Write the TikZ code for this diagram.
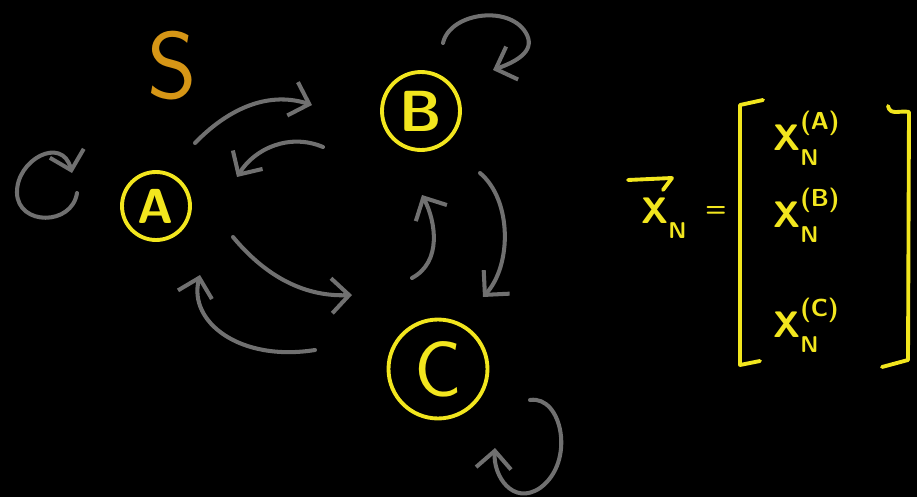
\documentclass[tikz,border=0pt]{standalone}
\usetikzlibrary{arrows.meta}

\definecolor{tiza}{RGB}{242,230,30}
\definecolor{gris}{RGB}{112,112,112}
\definecolor{naranja}{RGB}{214,150,22}

% X con subindice N y superindice opcional
\newcommand{\xsubn}[1]{X\makebox[0pt][l]{\raisebox{-0.9ex}{\fontsize{13}{15}\selectfont N}}%
  \raisebox{1.2ex}{\fontsize{14}{16}\selectfont #1}}

\begin{document}
\begin{tikzpicture}[x=0.02cm, y=-0.02cm, >={Straight Barb[length=3.5mm,width=7mm]},
    line cap=round, line join=round,
    flecha/.style={->, gris, line width=2.3pt},
    estado/.style={circle, draw=tiza, line width=2.2pt, text=tiza, inner sep=0pt},
    entrada/.style={tiza, anchor=base west, inner sep=0pt, font=\fontsize{21}{25}\sffamily\bfseries}]
  % Fondo negro (pizarra)
  \fill[black] (0,0) rectangle (917,497);
  \useasboundingbox (0,0) rectangle (917,497);

  % Estados
  \node[naranja, font=\fontsize{54}{60}\sffamily] (S) at (172,66) {S};
  \node[estado, minimum size=1.36cm, font=\fontsize{28}{32}\sffamily\bfseries] (A) at (156,206) {A};
  \node[estado, minimum size=1.56cm, font=\fontsize{33}{38}\sffamily\bfseries] (B) at (421,111) {B};
  \node[estado, minimum size=1.98cm, font=\fontsize{45}{50}\sffamily] (C) at (438,369) {C};

  % Extremos de las flechas
  \coordinate (AB0) at (195,143); \coordinate (AB1) at (312,105);
  \coordinate (BA0) at (323,147); \coordinate (BA1) at (237,177);
  \coordinate (AC0) at (233,237); \coordinate (AC1) at (352,295);
  \coordinate (CA0) at (315,350); \coordinate (CA1) at (200,275);
  \coordinate (CB0) at (412,278); \coordinate (CB1) at (422,195);
  \coordinate (BC0) at (480,173); \coordinate (BC1) at (483,297);
  \coordinate (AA0) at (77,193);  \coordinate (AA1) at (72,173);
  \coordinate (BB0) at (443,43);  \coordinate (BB1) at (493,70);
  \coordinate (CC0) at (530,400); \coordinate (CC1) at (495,448);

  % Transiciones
  \draw[flecha] (AB0) .. controls (225,112) and (265,90) .. (AB1);
  \draw[flecha] (BA0) .. controls (290,133) and (255,148) .. (BA1);
  \draw[flecha] (AC0) .. controls (262,272) and (300,297) .. (AC1);
  \draw[flecha] (CA0) .. controls (240,362) and (188,322) .. (CA1);
  \draw[flecha] (CB0) .. controls (442,262) and (436,222) .. (CB1);
  \draw[flecha] (BC0) .. controls (512,200) and (512,265) .. (BC1);

  % Lazos
  \draw[flecha] (AA0) .. controls (72,226) and (18,226) .. (17,193)
                      .. controls (16,160) and (62,135) .. (AA1);
  \draw[flecha] (BB0) .. controls (450,12) and (512,4) .. (527,35)
                      .. controls (535,52) and (515,62) .. (BB1);
  \draw[flecha] (CC0) .. controls (562,395) and (576,462) .. (540,488)
                      .. controls (513,506) and (493,476) .. (CC1);

  % Vector de estado
  \node[entrada] (xvec) at (641,223) {\xsubn{}};
  \draw[tiza, line width=2.2pt] (628,180) -- (672,178) -- (663,190);
  \node[tiza, font=\fontsize{14}{16}\sffamily\bfseries] (igual) at (716,211) {=};
  \node[entrada] (xA) at (773,150) {\xsubn{(A)}};
  \node[entrada] (xB) at (773,227) {\xsubn{(B)}};
  \node[entrada] (xC) at (773,337) {\xsubn{(C)}};

  % Corchetes
  \draw[tiza, line width=2.2pt] (763,100) -- (740,105) -- (740,365) -- (760,361);
  \draw[tiza, line width=2.2pt] (888,106) .. controls (890,116) and (900,110) .. (909,112)
                                -- (908,360) -- (882,367);
\end{tikzpicture}
\end{document}
